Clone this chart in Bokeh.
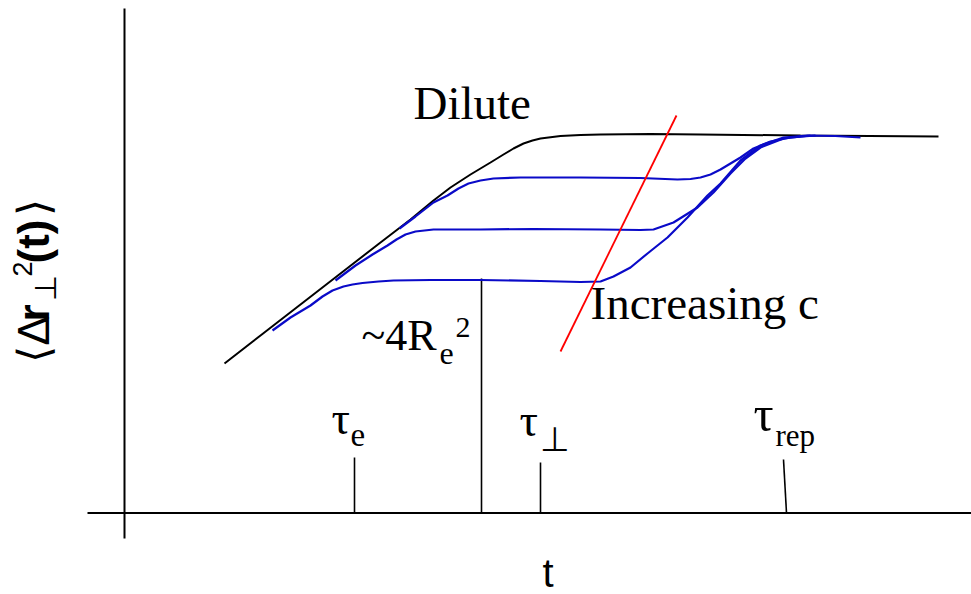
from bokeh.plotting import figure
from bokeh.models import Range1d
from bokeh.core.properties import value
from bokeh.embed import file_html
from bokeh.resources import INLINE
import math

# Schematic of the transverse mean-square displacement versus time.
# Coordinates are drawing units (t to the right, displacement growing upward,
# the vertical range is inverted so larger values sit higher on the page).

# Dilute chain: free growth, then the final plateau
dilute_t = [224, 260, 300, 340, 380, 410, 433, 450, 470, 490, 503, 513, 523, 532, 540, 560, 580, 600, 650, 700, 800, 938]
dilute_r = [363, 335, 304, 273, 242, 219, 200, 187, 174, 162, 154, 148, 143, 140, 138, 135.5, 134.5, 134, 133.5, 134, 135, 136]

# Semidilute curves (increasing concentration -> lower intermediate plateau)
semi_low_t = [272, 290, 310, 322, 332, 343, 352, 362, 378, 393, 430, 480, 540, 580, 600, 613, 630, 647, 667, 687, 707, 720, 740, 760, 783, 807, 835, 860]
semi_low_r = [330, 317, 305, 296, 290, 286, 284, 282.5, 281, 280, 279.5, 279.5, 280.5, 281.5, 281, 276, 267, 253, 237, 217, 195, 183, 160, 145, 137, 135, 135.5, 137]

semi_mid_t = [335, 355, 372, 387, 396, 405, 415, 433, 480, 533, 600, 640, 653, 673, 697, 713, 730, 745, 760, 783, 810]
semi_mid_r = [280, 265, 254, 245, 239, 234, 231, 229, 229, 228.5, 229, 229.5, 229, 222, 207, 192, 173, 158, 147, 138, 135]

semi_high_t = [399, 415, 433, 447, 458, 468, 480, 493, 520, 580, 640, 677, 690, 700, 710, 720, 730, 740, 753, 770, 790, 815]
semi_high_r = [228, 216, 202, 195, 188, 183, 180, 178, 177, 177, 177.5, 179, 178.5, 177, 174, 169, 163, 157, 148, 141, 137, 135]

# Line marking the direction of increasing c
conc_t = [560, 676]
conc_r = [351, 115]

# Characteristic times on the t axis
tick_t0 = [354, 540, 783]
tick_t1 = [354, 540, 786]
tick_top = [457, 462, 459]

# Plateau height marker
plateau_t = 481
plateau_r = 278

p = figure(width=971, height=594, output_backend="svg", toolbar_location=None,
           x_range=Range1d(0, 971), y_range=Range1d(594, 0),
           x_axis_type=None, y_axis_type=None, min_border=0)
p.outline_line_color = None
p.xgrid.visible = False
p.ygrid.visible = False
p.background_fill_color = "white"
p.border_fill_color = "white"

# axes drawn as plain lines
p.segment(x0=[124, 87], y0=[8, 512.5], x1=[124, 971], y1=[538, 512.5], line_color="black", line_width=2)

# tick marks and plateau marker
p.segment(x0=tick_t0, y0=tick_top, x1=tick_t1, y1=[512.5] * 3, line_color="black", line_width=1.6)
p.segment(x0=[plateau_t], y0=[plateau_r], x1=[plateau_t], y1=[512.5], line_color="black", line_width=1.6)

# curves
p.line(dilute_t, dilute_r, line_color="black", line_width=2)
blue = "#0a0ac8"
p.line(semi_low_t, semi_low_r, line_color=blue, line_width=2.2)
p.line(semi_mid_t, semi_mid_r, line_color=blue, line_width=2.2)
p.line(semi_high_t, semi_high_r, line_color=blue, line_width=2.2)
p.line(conc_t, conc_r, line_color="#ff0000", line_width=1.8)

serif = value("Liberation Serif")
sans = value("Liberation Sans")

def label(x, y, text, font, size, style="normal", angle=0.0):
    # (x, y) is the wanted baseline start; the renderer sets text a bit low,
    # so lift it by a fraction of the font size along the glyph's "up" direction
    px = float(size.rstrip("px"))
    k = 0.38 * px
    if angle:
        x = x - k
    else:
        y = y - k
    p.text(x=[x], y=[y], text=[text], text_font=font, text_font_size=size,
           text_font_style=style, text_baseline="alphabetic", text_align="left",
           text_color="black", angle=angle)

label(413, 120, "Dilute", serif, "47px")
label(590, 320, "Increasing c", serif, "47px")

# ~4Re^2
label(361, 352, "~4R", serif, "44px")
label(439, 365, "e", serif, "32px")
label(455, 338, "2", serif, "30px")

# tau labels
label(331, 435, "\u03c4", serif, "46px")
label(350, 447, "e", serif, "33px")
label(519, 437, "\u03c4", serif, "46px")
label(539, 452, "\u22a5", serif, "34px")
label(753, 432, "\u03c4", serif, "50px")
label(775, 447, "rep", serif, "31px")

# axis titles
label(542, 588, "t", sans, "40px")

up = math.pi / 2
label(50, 362, "\u27e8\u0394", sans, "44px", angle=up)
label(50, 321, "r", sans, "44px", style="bold", angle=up)
label(56, 300, "\u22a5", sans, "30px", angle=up)
label(32, 276, "2", sans, "27px", angle=up)
label(50, 263, "(t)", sans, "44px", style="bold", angle=up)
label(50, 215, "\u27e9", sans, "44px", angle=up)

open("out.html", "w").write(file_html(p, INLINE))
